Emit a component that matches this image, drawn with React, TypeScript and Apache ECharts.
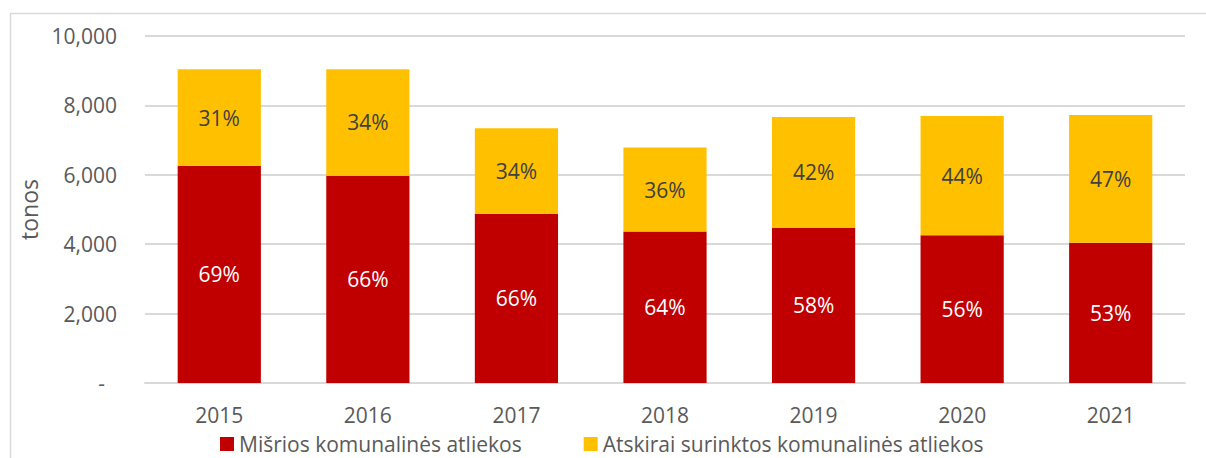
import React, { useEffect, useRef } from "react";
import * as echarts from "echarts";

const years = ["2015", "2016", "2017", "2018", "2019", "2020", "2021"];
const mixedWaste = [6260, 5975, 4875, 4365, 4470, 4255, 4045];
const separateWaste = [2780, 3065, 2470, 2420, 3195, 3440, 3675];
const mixedPct = ["69%", "66%", "66%", "64%", "58%", "56%", "53%"];
const separatePct = ["31%", "34%", "34%", "36%", "42%", "44%", "47%"];
const seriesNames = ["Mišrios komunalinės atliekos", "Atskirai surinktos komunalinės atliekos"];
const yAxisTitle = "tonos";

const FONT = "'Open Sans', 'Noto Sans', sans-serif";
const TXT = "#595959";

export default function App() {
  const ref = useRef<HTMLDivElement>(null);
  useEffect(() => {
    if (!ref.current) return;
    const chart = echarts.init(ref.current, undefined, { renderer: "svg" });
    chart.setOption({
      animation: false,
      textStyle: { fontFamily: FONT },
      grid: { left: 145, right: 21, top: 36, bottom: 75 },
      graphic: [
        { type: "line", shape: { x1: 10.5, y1: 13, x2: 10.5, y2: 458 }, style: { stroke: "#d9d9d9", lineWidth: 1.5 } },
        { type: "line", shape: { x1: 10, y1: 13.5, x2: 1206, y2: 13.5 }, style: { stroke: "#d9d9d9", lineWidth: 1.5 } },
      ],
      legend: {
        left: 220,
        top: 432,
        padding: 0,
        itemWidth: 14,
        itemHeight: 14,
        itemGap: 62,
        icon: "rect",
        textStyle: { fontFamily: FONT, fontSize: 21, lineHeight: 24, color: TXT },
        data: seriesNames,
      },
      xAxis: {
        type: "category",
        data: years,
        axisLine: { lineStyle: { color: "#d9d9d9", width: 2 } },
        axisTick: { show: false },
        axisLabel: { color: TXT, fontSize: 21, margin: 21, fontFamily: FONT },
      },
      yAxis: {
        type: "value",
        min: 0,
        max: 10000,
        interval: 2000,
        name: yAxisTitle,
        nameLocation: "middle",
        nameGap: 100,
        nameTextStyle: { color: TXT, fontSize: 23, fontFamily: FONT },
        axisLine: { show: false },
        axisTick: { show: false },
        splitLine: { lineStyle: { color: "#d9d9d9", width: 2 } },
        axisLabel: {
          color: TXT,
          fontSize: 21,
          margin: 28,
          fontFamily: FONT,
          formatter: (v: number) => (v === 0 ? "{d|-}" : v.toLocaleString("en-US")),
          rich: { d: { color: TXT, fontSize: 21, fontFamily: FONT, padding: [0, 12, 0, 0] } },
        },
      },
      series: [
        {
          name: seriesNames[0],
          type: "bar",
          stack: "total",
          barWidth: "56%",
          itemStyle: { color: "#C00000" },
          data: mixedWaste,
          label: {
            show: true,
            position: "inside",
            color: "#ffffff",
            fontSize: 21,
            fontFamily: FONT,
            formatter: (p: any) => mixedPct[p.dataIndex],
          },
        },
        {
          name: seriesNames[1],
          type: "bar",
          stack: "total",
          barWidth: "56%",
          itemStyle: { color: "#FFC000" },
          data: separateWaste,
          label: {
            show: true,
            position: "inside",
            color: "#404040",
            fontSize: 21,
            fontFamily: FONT,
            formatter: (p: any) => separatePct[p.dataIndex],
          },
        },
      ],
    });
    return () => chart.dispose();
  }, []);
  return (
    <div
      ref={ref}
      style={{ position: "fixed", left: 0, top: 0, width: 1206, height: 458, background: "#ffffff" }}
    />
  );
}
